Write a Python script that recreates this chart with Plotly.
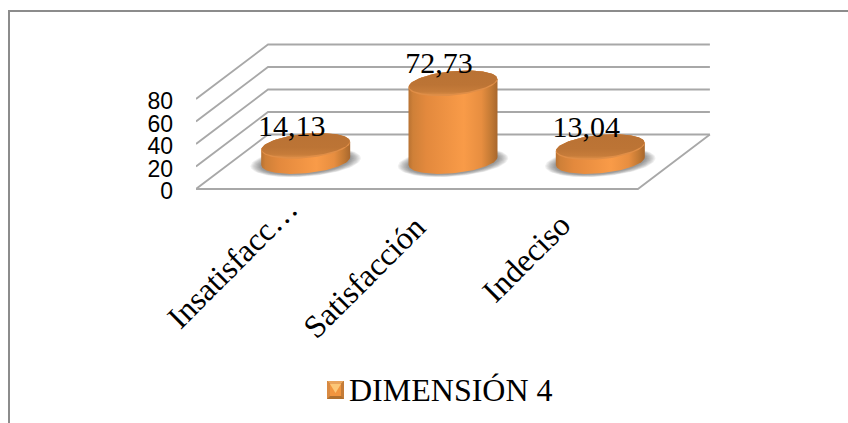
import numpy as np
import plotly.graph_objects as go

# Chart data
categories = ["Insatisfacc…", "Satisfacción", "Indeciso"]
values = [14.13, 72.73, 13.04]
series_name = "DIMENSIÓN 4"
y_ticks = [0, 20, 40, 60, 80]

# Page and projection constants
W, H = 848, 423
LEFT = 196                # pixel column of the front-left floor corner
FLOOR_Y = 189             # pixel row of value 0 on the front edge
PX_PER_UNIT = 1.125       # vertical pixels per value unit
CAT_STEP = 147.3          # horizontal pixels per category
FIRST_CAT_X = 305.7       # pixel column of the first category centre
DEPTH_DX = 72 / CAT_STEP  # oblique shift of the floor depth, in category units
DEPTH_DY = 54.5 / PX_PER_UNIT  # same shift, in value units
FORESHORTEN = 0.95        # cylinders sit mid-depth and read a little shorter

RX = 44.5 / CAT_STEP
RY = 12.2 / PX_PER_UNIT
TILT = 4 / PX_PER_UNIT

SIDE_SCALE = [
    [0.0, "#B87232"], [0.05, "#CF8038"], [0.2, "#E3893D"], [0.62, "#F99B48"],
    [0.82, "#E78E40"], [0.93, "#C27934"], [1.0, "#A8672D"],
]
TOP_SCALE = [[0.0, "#D88A44"], [0.12, "#C67C3A"], [0.4, "#BC7435"], [1.0, "#B97234"]]
RIM = "#E08E47"
GRID = "#A8A8A8"
FRAME = "#8C8C8C"
SERIF = "Liberation Serif"

x_min = (LEFT - FIRST_CAT_X) / CAT_STEP
x_max = x_min + (W - LEFT) / CAT_STEP
y_max = FLOOR_Y / PX_PER_UNIT
y_min = y_max - H / PX_PER_UNIT


def ellipse(cx, cy, rx, ry, t):
    return cx + rx * np.cos(t), cy + ry * np.sin(t) + TILT * np.cos(t)


def page_x(px):
    return (px - LEFT) / (W - LEFT)


def page_y(py):
    return 1 - py / H


def poly(points):
    # SVG path in paper coordinates from page pixel corners
    parts = [f"{'M' if k == 0 else 'L'} {page_x(px):.5f} {page_y(py):.5f}" for k, (px, py) in enumerate(points)]
    return " ".join(parts) + " Z"


fig = go.Figure()

# Walls and floor: back wall rules, left wall slants, floor outline
left_x, back_x = x_min, x_min + DEPTH_DX
right_x = back_x + 3
gx, gy = [], []
for v in y_ticks:
    gx += [left_x, back_x, right_x, None]
    gy += [v, v + DEPTH_DY, v + DEPTH_DY, None]
gx += [left_x, right_x - DEPTH_DX, right_x]
gy += [0, 0, DEPTH_DY]
fig.add_trace(go.Scatter(x=gx, y=gy, mode="lines", showlegend=False, hoverinfo="skip",
                         line=dict(color=GRID, width=1.8)))

t_full = np.linspace(0, 2 * np.pi, 121)
t_lower = np.linspace(np.pi, 2 * np.pi, 61)
t_upper = np.linspace(0, np.pi, 61)

for i, (cat, val) in enumerate(zip(categories, values)):
    base = DEPTH_DY / 2 + 0.6
    top = base + val * FORESHORTEN

    # Soft contact shadow from stacked translucent ellipses
    for grow in np.linspace(1.24, 1.02, 9):
        sx, sy = ellipse(i, base - 1.0, RX * grow, RY * (grow - 0.06), t_full)
        fig.add_trace(go.Scatter(x=sx, y=sy, mode="lines", line=dict(width=0), fill="toself",
                                 fillcolor="rgba(70,70,70,0.08)", showlegend=False, hoverinfo="skip"))

    # Cylinder wall
    bx, by = ellipse(i, base, RX, RY, t_lower)
    tx, ty = ellipse(i, top, RX, RY, t_upper)
    fig.add_trace(go.Scatter(x=np.r_[bx, tx], y=np.r_[by, ty], mode="lines", line=dict(width=0),
                             fill="toself", showlegend=False, name=cat,
                             fillgradient=dict(type="horizontal", colorscale=SIDE_SCALE)))

    # Bevelled rim and top face
    rx_, ry_ = ellipse(i, top, RX, RY, t_full)
    fig.add_trace(go.Scatter(x=rx_, y=ry_, mode="lines", line=dict(width=0), fill="toself",
                             fillcolor=RIM, showlegend=False, hoverinfo="skip"))
    fx, fy = ellipse(i, top + 0.7, RX * 0.99, RY * 0.93, t_full)
    fig.add_trace(go.Scatter(x=fx, y=fy, mode="lines", line=dict(width=0), fill="toself",
                             showlegend=False, hoverinfo="skip",
                             fillgradient=dict(type="vertical", colorscale=TOP_SCALE)))

# Value labels sit above each top face, shifted left of the cylinder axis
label_x = [i - 14 / CAT_STEP for i in range(len(values))]
label_y = [DEPTH_DY / 2 + 0.6 + v * FORESHORTEN + 15.5 for v in values]
fig.add_trace(go.Scatter(
    x=label_x, y=label_y, mode="text", showlegend=False, hoverinfo="skip",
    text=[f"{v:.2f}".replace(".", ",") for v in values], textposition="middle center",
    textfont=dict(family=SERIF, size=30, color="black"),
))

# Rotated category labels
label_centres = [(232, 263), (364, 277), (526, 258)]
for cat, (px, py) in zip(categories, label_centres):
    fig.add_annotation(x=page_x(px), y=page_y(py), xref="paper", yref="paper",
                       text=cat, showarrow=False, textangle=-45, xanchor="center", yanchor="middle",
                       font=dict(family=SERIF, size=32, color="black"))

# Series key: bevelled square beside the series name
kx0, kx1, ky0, ky1 = 327, 344, 381, 399
b = 3
key_faces = [
    ([(kx0, ky0), (kx1, ky0), (kx1, ky1), (kx0, ky1)], "#B0702F"),
    ([(kx0, ky0), (kx1, ky0), (kx1 - b, ky0 + b), (kx0 + b, ky0 + b)], "#E9A45C"),
    ([(kx0, ky0), (kx0 + b, ky0 + b), (kx0 + b, ky1 - b), (kx0, ky1)], "#D98A42"),
    ([(kx1, ky0), (kx1 - b, ky0 + b), (kx1 - b, ky1 - b), (kx1, ky1)], "#C47C38"),
    ([(kx0 + b, ky0 + b), (kx1 - b, ky0 + b), (kx1 - b, ky1 - b), (kx0 + b, ky1 - b)], "#F1953F"),
    ([(kx0 + b, ky0 + b), (kx1 - b, ky0 + b), ((kx0 + kx1) / 2, ky1 - b - 3)], "#FCC777"),
]
for pts, colour in key_faces:
    fig.add_shape(type="path", xref="paper", yref="paper", path=poly(pts),
                  fillcolor=colour, line=dict(width=0))
fig.add_annotation(x=page_x(347), y=page_y(390), xref="paper", yref="paper", text=series_name,
                   showarrow=False, xanchor="left", yanchor="middle",
                   font=dict(family=SERIF, size=32, color="black"))

# Chart frame: top and left edges only
fig.add_shape(type="line", xref="paper", yref="paper", layer="below",
              x0=page_x(8), x1=1, y0=page_y(11), y1=page_y(11),
              line=dict(color=FRAME, width=2))
fig.add_shape(type="line", xref="paper", yref="paper", layer="below",
              x0=page_x(9), x1=page_x(9), y0=page_y(10), y1=0,
              line=dict(color=FRAME, width=2))

fig.update_layout(
    width=W, height=H, margin=dict(l=LEFT, r=0, t=0, b=0),
    paper_bgcolor="white", plot_bgcolor="white", showlegend=False,
    xaxis=dict(range=[x_min, x_max], visible=False, fixedrange=True),
    yaxis=dict(range=[y_min, y_max], tickvals=y_ticks, showgrid=False, zeroline=False,
               showline=False, ticks="", ticklabelstandoff=22, ticklabelshift=2, fixedrange=True,
               tickfont=dict(family="Liberation Sans", size=23, color="black")),
)

fig.write_html("out.html", config=dict(displayModeBar=False))
